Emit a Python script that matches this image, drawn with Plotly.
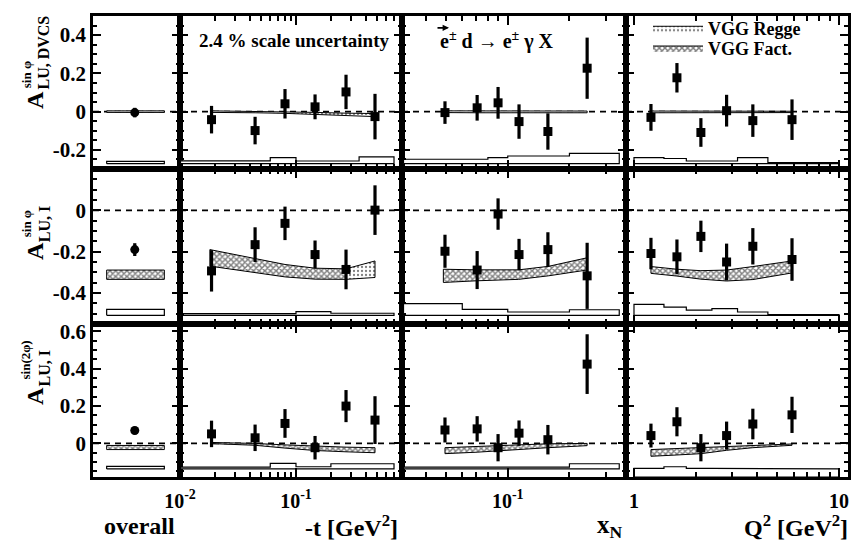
import plotly.graph_objects as go
from plotly.subplots import make_subplots

FONT = "Liberation Serif"

# ---------------- kinematic bins ----------------
overall_x = [0.48]
overall_box_x = [0.157, 0.82]
t_vals = [0.0187, 0.0444, 0.0804, 0.146, 0.270, 0.48]
xn_vals = [0.0494, 0.0709, 0.0897, 0.1135, 0.157, 0.244]
q2_vals = [1.21, 1.62, 2.12, 2.83, 3.80, 5.90]

t_edges = [0.0101, 0.03, 0.06, 0.10, 0.20, 0.35, 0.70]
xn_edges = [0.031, 0.06, 0.08, 0.10, 0.13, 0.20, 0.35]
q2_edges = [1.0, 1.4, 1.8, 2.4, 3.2, 4.5, 10.0]

# ---------------- measured asymmetries ----------------
# row 1 : A_LU,DVCS sin(phi)
dvcs_all, dvcs_all_err = [-0.005], [0.025]
dvcs_t = [-0.042, -0.099, 0.041, 0.025, 0.103, -0.026]
dvcs_t_err = [0.072, 0.072, 0.077, 0.065, 0.090, 0.119]
dvcs_xn = [-0.005, 0.020, 0.046, -0.052, -0.104, 0.227]
dvcs_xn_err = [0.059, 0.067, 0.083, 0.090, 0.095, 0.160]
dvcs_q2 = [-0.030, 0.177, -0.109, 0.005, -0.047, -0.042]
dvcs_q2_err = [0.070, 0.077, 0.075, 0.083, 0.085, 0.106]

# row 2 : A_LU,I sin(phi)
i1_all, i1_all_err = [-0.190], [0.031]
i1_t = [-0.293, -0.166, -0.063, -0.214, -0.286, 0.001]
i1_t_err = [0.100, 0.084, 0.081, 0.068, 0.096, 0.120]
i1_xn = [-0.198, -0.289, -0.018, -0.214, -0.190, -0.317]
i1_xn_err = [0.080, 0.092, 0.076, 0.076, 0.084, 0.160]
i1_q2 = [-0.209, -0.225, -0.126, -0.250, -0.174, -0.238]
i1_q2_err = [0.076, 0.084, 0.076, 0.089, 0.088, 0.103]

# row 3 : A_LU,I sin(2phi)
i2_all, i2_all_err = [0.069], [0.020]
i2_t = [0.051, 0.030, 0.107, -0.023, 0.200, 0.125]
i2_t_err = [0.071, 0.071, 0.077, 0.063, 0.086, 0.128]
i2_xn = [0.072, 0.078, -0.023, 0.055, 0.020, 0.425]
i2_xn_err = [0.067, 0.068, 0.073, 0.068, 0.079, 0.160]
i2_q2 = [0.042, 0.116, -0.023, 0.042, 0.104, 0.153]
i2_q2_err = [0.064, 0.078, 0.073, 0.075, 0.082, 0.097]

# ---------------- systematic uncertainty bands ----------------
sys_base = [-0.272, -0.508, -0.137]
sys_all = [0.012, 0.029, 0.014]
sys_t = [[0.015, 0.015, 0.032, 0.014, 0.014, 0.035],
         [0.008, 0.008, 0.008, 0.018, 0.010, 0.010],
         [0.010, 0.010, 0.030, 0.012, 0.028, 0.028]]
sys_xn = [[0.023, 0.023, 0.032, 0.040, 0.040, 0.054],
          [0.057, 0.029, 0.029, 0.016, 0.016, 0.027],
          [0.010, 0.010, 0.010, 0.010, 0.010, 0.028]]
sys_q2 = [[0.032, 0.027, 0.014, 0.014, 0.032, 0.006],
          [0.053, 0.040, 0.025, 0.032, 0.016, 0.004],
          [0.046, 0.055, 0.046, 0.046, 0.046, 0.043]]
sys_q2_base_row3 = -0.18

# ---------------- VGG model bands ----------------
# row 1 (Regge, thin)
regge1_all = [-0.004, 0.004]
regge1_t_up = [0.004, 0.002, 0.000, -0.004, -0.008, -0.010]
regge1_t_lo = [-0.004, -0.006, -0.009, -0.014, -0.020, -0.026]
regge1_xn_up = [0.004, 0.004, 0.003, 0.002, 0.002, 0.003]
regge1_xn_lo = [-0.005, -0.006, -0.006, -0.007, -0.007, -0.006]
regge1_q2_up = [0.003, 0.003, 0.003, 0.002, 0.002, 0.002]
regge1_q2_lo = [-0.006, -0.006, -0.006, -0.006, -0.005, -0.005]

# row 2 (Fact.)
fact2_all = [-0.334, -0.289]
fact2_t_x = [0.0181, 0.0444, 0.0804, 0.146, 0.270]
fact2_t_up = [-0.190, -0.235, -0.262, -0.280, -0.283]
fact2_t_lo = [-0.270, -0.300, -0.322, -0.333, -0.334]
regge2_t_x = [0.270, 0.48]
regge2_t_up = [-0.283, -0.245]
regge2_t_lo = [-0.334, -0.325]
fact2_xn_x = [0.0485, 0.0705, 0.113, 0.158, 0.243]
fact2_xn_up = [-0.285, -0.288, -0.288, -0.271, -0.230]
fact2_xn_lo = [-0.349, -0.341, -0.334, -0.317, -0.289]
fact2_q2_up = [-0.272, -0.285, -0.292, -0.289, -0.272, -0.245]
fact2_q2_lo = [-0.305, -0.318, -0.333, -0.342, -0.335, -0.303]

# row 3 (Fact.)
fact3_all = [-0.033, -0.011]
fact3_t_up = [0.005, 0.000, -0.008, -0.015, -0.020, -0.023]
fact3_t_lo = [-0.001, -0.010, -0.025, -0.038, -0.045, -0.050]
fact3_xn_up = [-0.023, -0.017, -0.011, -0.006, -0.002, 0.000]
fact3_xn_lo = [-0.055, -0.047, -0.041, -0.033, -0.023, -0.012]
fact3_q2_up = [-0.033, -0.028, -0.023, -0.016, -0.011, -0.003]
fact3_q2_lo = [-0.069, -0.062, -0.055, -0.037, -0.023, -0.010]

# ---------------- axis settings ----------------
x_ranges = [[0, 1], [-2.0, -0.086], [-1.516, -0.423], [-0.039, 1.044]]
y_ranges = [[-0.30, 0.50], [-0.55, 0.20], [-0.18, 0.64]]
y_tickvals = [[-0.2, 0, 0.2, 0.4], [-0.4, -0.2, 0], [0, 0.2, 0.4, 0.6]]
y_ticktext = [["-0.2", "0", "0.2", "0.4"], ["-0.4", "-0.2", "0"], ["0", "0.2", "0.4", "0.6"]]
x_tickvals = [None, [0.01, 0.1], [0.1], [1, 10]]
x_ticktext = [None, ["10<sup>-2</sup>", "10<sup>-1</sup>"], ["10<sup>-1</sup>"], ["1", "10"]]
x_minor = [None,
           [0.02, 0.03, 0.04, 0.05, 0.06, 0.07, 0.08, 0.09, 0.2, 0.3, 0.4, 0.5, 0.6, 0.7],
           [0.04, 0.05, 0.06, 0.07, 0.08, 0.09, 0.2, 0.3],
           [2, 3, 4, 5, 6, 7, 8, 9]]

fig = make_subplots(rows=3, cols=4, column_widths=[87, 222, 224, 222],
                    row_heights=[155, 157, 155], horizontal_spacing=0, vertical_spacing=0)

HATCH = dict(solidity=0.6, size=4)
DOTS = dict(solidity=0.25, size=4)


def band(x, up, lo, pattern, name=None, legend=None, row=1, col=1, solidity=0.6, size=4):
    xs = list(x) + list(x)[::-1] + [x[0]]
    ys = list(up) + list(lo)[::-1] + [up[0]]
    kw = dict(showlegend=False)
    if legend:
        kw = dict(showlegend=True, legend=legend)
    fig.add_trace(go.Scatter(
        x=xs, y=ys, mode="lines", fill="toself",
        line=dict(color="black", width=1),
        fillcolor="white",
        fillpattern=dict(shape=pattern, fgcolor="black", bgcolor="white",
                         size=size, solidity=solidity),
        name=name, hoverinfo="skip", **kw), row=row, col=col)


def sysbox(edges, heights, base, row, col):
    xs, ys = [edges[0]], [base]
    for i, h in enumerate(heights):
        xs += [edges[i], edges[i + 1]]
        ys += [base + h, base + h]
    xs += [edges[-1], edges[0]]
    ys += [base, base]
    fig.add_trace(go.Scatter(x=xs, y=ys, mode="lines", fill="toself", fillcolor="white",
                             line=dict(color="black", width=1.2), showlegend=False,
                             hoverinfo="skip"), row=row, col=col)


def points(x, y, err, row, col, symbol="square"):
    fig.add_trace(go.Scatter(
        x=x, y=y, mode="markers",
        marker=dict(symbol=symbol, size=9, color="black"),
        error_y=dict(type="data", array=err, thickness=3.2, width=0, color="black"),
        showlegend=False), row=row, col=col)


# legend entries first
band(t_vals, regge1_t_up, regge1_t_lo, ".", name="VGG Regge", legend="legend",
     row=1, col=2, **DOTS)
band(fact2_t_x, fact2_t_up, fact2_t_lo, "x", name="VGG Fact.", legend="legend2",
     row=2, col=2, **HATCH)

# row 1
band(overall_box_x, [regge1_all[1]] * 2, [regge1_all[0]] * 2, ".", row=1, col=1, **DOTS)
band(xn_vals, regge1_xn_up, regge1_xn_lo, ".", row=1, col=3, **DOTS)
band(q2_vals, regge1_q2_up, regge1_q2_lo, ".", row=1, col=4, **DOTS)
# row 2
band(overall_box_x, [fact2_all[1]] * 2, [fact2_all[0]] * 2, "x", row=2, col=1, **HATCH)
band(regge2_t_x, regge2_t_up, regge2_t_lo, ".", row=2, col=2, **DOTS)
band(fact2_xn_x, fact2_xn_up, fact2_xn_lo, "x", row=2, col=3, **HATCH)
band(q2_vals, fact2_q2_up, fact2_q2_lo, "x", row=2, col=4, **HATCH)
# row 3
band(overall_box_x, [fact3_all[1]] * 2, [fact3_all[0]] * 2, "x", row=3, col=1, **HATCH)
band(t_vals, fact3_t_up, fact3_t_lo, "x", row=3, col=2, **HATCH)
band(xn_vals, fact3_xn_up, fact3_xn_lo, "x", row=3, col=3, **HATCH)
band(q2_vals, fact3_q2_up, fact3_q2_lo, "x", row=3, col=4, **HATCH)

# systematic boxes
for r in range(3):
    sysbox(overall_box_x, [sys_all[r]], sys_base[r], r + 1, 1)
    sysbox(t_edges, sys_t[r], sys_base[r], r + 1, 2)
    sysbox(xn_edges, sys_xn[r], sys_base[r], r + 1, 3)
    qb = sys_q2_base_row3 if r == 2 else sys_base[r]
    sysbox(q2_edges, sys_q2[r], qb, r + 1, 4)

# data points
data = [
    [(dvcs_all, dvcs_all_err), (dvcs_t, dvcs_t_err), (dvcs_xn, dvcs_xn_err), (dvcs_q2, dvcs_q2_err)],
    [(i1_all, i1_all_err), (i1_t, i1_t_err), (i1_xn, i1_xn_err), (i1_q2, i1_q2_err)],
    [(i2_all, i2_all_err), (i2_t, i2_t_err), (i2_xn, i2_xn_err), (i2_q2, i2_q2_err)],
]
xcols = [overall_x, t_vals, xn_vals, q2_vals]
for r in range(3):
    for c in range(4):
        y, e = data[r][c]
        points(xcols[c], y, e, r + 1, c + 1, symbol="circle" if c == 0 else "square")

# axes
shapes = []
for r in range(3):
    for c in range(4):
        idx = r * 4 + c + 1
        xn = "x" if idx == 1 else f"x{idx}"
        yn = "y" if idx == 1 else f"y{idx}"
        xa = dict(range=x_ranges[c], showline=True, linecolor="black", linewidth=2.5,
                  mirror="allticks", showgrid=False, zeroline=False,
                  tickfont=dict(family=FONT, size=20, color="black", weight="bold"))
        if c == 0:
            xa.update(type="linear", ticks="", showticklabels=False)
        else:
            xa.update(type="log", ticks="inside", ticklen=9, tickwidth=2, tickcolor="black",
                      tickmode="array", tickvals=x_tickvals[c], ticktext=x_ticktext[c],
                      showticklabels=(r == 2), ticklabelstandoff=4,
                      minor=dict(ticks="inside", ticklen=5, tickwidth=1.8, tickcolor="black",
                                 tickmode="array", tickvals=x_minor[c]))
        fig.update_xaxes(row=r + 1, col=c + 1, **xa)
        fig.update_yaxes(row=r + 1, col=c + 1, range=y_ranges[r], showline=True,
                         linecolor="black", linewidth=2.5, mirror="allticks",
                         showgrid=False, zeroline=False,
                         ticks="inside", ticklen=8, tickwidth=2, tickcolor="black",
                         tickmode="array", tickvals=y_tickvals[r], ticktext=y_ticktext[r],
                         showticklabels=(c == 0),
                         tickfont=dict(family=FONT, size=21, color="black", weight="bold"),
                         minor=dict(ticks="inside", ticklen=4, tickwidth=1.8, tickcolor="black",
                                    tickmode="linear", tick0=0, dtick=0.05))
        shapes.append(dict(type="line", xref=f"{xn} domain", yref=yn, x0=0, x1=1, y0=0, y1=0,
                           line=dict(color="black", width=1.8, dash="6px,5px"), layer="below"))

L, R, T, B = 93, 848, 10, 477


def px(v):
    return (v - L) / (R - L)


def py(v):
    return (B - v) / (B - T)


def ann(text, x, y, size, angle=0, **kw):
    d = dict(text=text, x=px(x), y=py(y), xref="paper", yref="paper", showarrow=False,
             xanchor="center", yanchor="middle", textangle=angle,
             font=dict(family=FONT, size=size, color="black", weight="bold"))
    d.update(kw)
    return d


annotations = [
    # y-axis titles
    ann("A", 35, 95, 24, -90), ann("sin φ", 26, 70, 13, -90), ann("LU, DVCS", 44, 47, 16, -90),
    ann("A", 35, 248, 24, -90), ann("sin φ", 26, 221, 13, -90), ann("LU, I", 44, 221, 16, -90),
    ann("A", 35, 395, 24, -90), ann("sin(2φ)", 26, 359, 13, -90), ann("LU, I", 44, 367, 16, -90),
    # x-axis titles
    ann("overall", 139, 527, 24),
    ann("-t [GeV<sup>2</sup>]", 351, 527, 24),
    ann("x<sub>N</sub>", 610, 527, 25),
    ann("Q<sup>2</sup> [GeV<sup>2</sup>]", 796, 527, 24),
    # panel texts
    ann("2.4 % scale uncertainty", 294, 35, 19),
    ann("e<sup>±</sup> d → e<sup>±</sup> γ X", 497, 35, 20),
    dict(x=px(449), y=py(22), ax=-13, ay=0, xref="paper", yref="paper", text="",
         showarrow=True, arrowhead=2, arrowsize=0.8, arrowwidth=1.6, arrowcolor="black"),
]

LEG = dict(xanchor="left", yanchor="top", bgcolor="rgba(0,0,0,0)", itemwidth=50,
           font=dict(family=FONT, size=18, color="black", weight="bold"))

fig.update_layout(
    width=867, height=546,
    margin=dict(l=L, r=867 - R, t=T, b=546 - B),
    paper_bgcolor="white", plot_bgcolor="white",
    font=dict(family=FONT, color="black", weight="bold"),
    shapes=shapes, annotations=annotations,
    showlegend=True,
    legend=dict(x=px(648), y=py(4), **LEG),
    legend2=dict(x=px(648), y=py(24), **LEG),
)

fig.write_html("out.html")
